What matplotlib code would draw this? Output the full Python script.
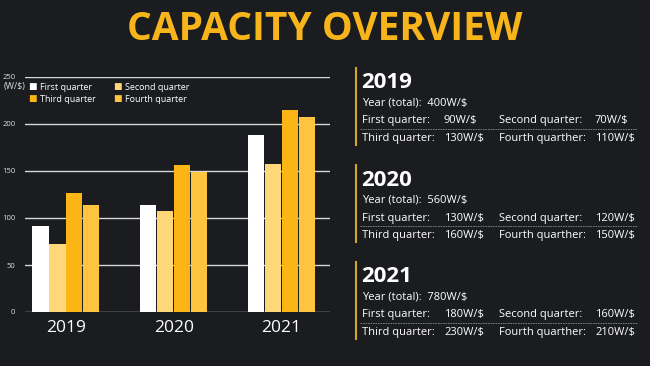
import numpy as np
import matplotlib.pyplot as plt

years = ["2019", "2020", "2021"]
quarters = ["First quarter", "Second quarter", "Third quarter", "Fourth quarter"]
# bar heights as drawn in the chart
q1 = [92, 114, 188]
q2 = [72, 107, 157]
q3 = [127, 156, 215]
q4 = [114, 149, 207]
yticks = [0, 50, 100, 150, 200, 250]

# numbers written in the side panels
totals = ["400W/$", "560W/$", "780W/$"]
txt_q1 = ["90W/$", "130W/$", "180W/$"]
txt_q2 = ["70W/$", "120W/$", "160W/$"]
txt_q3 = ["130W/$", "160W/$", "230W/$"]
txt_q4 = ["110W/$", "150W/$", "210W/$"]

bg = "#1a1c20"
colors = ["#ffffff", "#fdd77a", "#fbb515", "#fdc53e"]
gold = "#f7b51b"
font = "Open Sans"

W, H = 650, 366
fig = plt.figure(figsize=(6.5, 3.66), dpi=100, facecolor=bg)

fig.text(325 / W, 1 - 30 / H, "CAPACITY OVERVIEW", color=gold, fontsize=28,
         fontweight="bold", family=font, ha="center", va="center")

# bar chart
ax = fig.add_axes([25 / W, 1 - 312 / H, (330 - 25) / W, (312 - 77) / H])
ax.set_facecolor(bg)
x = np.arange(len(years))
width = 0.15
step = 0.157
for i, vals in enumerate([q1, q2, q3, q4]):
    ax.bar(x + (i - 1.5) * step, vals, width, color=colors[i], zorder=3)
ax.set_ylim(0, 250)
ax.set_xlim(-0.38, 2.45)
ax.set_yticks(yticks)
ax.set_yticklabels([str(t) for t in yticks], fontsize=5.5, color="#dddddd", family=font)
ax.grid(axis="y", color="#d8d8d8", linewidth=1.0, zorder=1)
ax.tick_params(axis="y", length=0, pad=7)
ax.tick_params(axis="x", length=0, pad=6)
ax.set_xticks(x)
ax.set_xticklabels(years, fontsize=12.5, color="white", family=font)
for s in ax.spines.values():
    s.set_visible(False)

fig.text(4 / W, 1 - 87 / H, "(W/$)", fontsize=6.5, color="#dddddd", family=font, va="center")
leg_pos = [(32, 87), (117, 87), (32, 99), (117, 99)]
for (px, py), c, lab in zip(leg_pos, colors, quarters):
    fig.text(px / W, 1 - py / H, "\u25a0", fontsize=6.5, color=c, va="center", ha="center", family="DejaVu Sans")
    fig.text((px + 8) / W, 1 - py / H, lab, fontsize=6.5, color="white", va="center", family=font)

# side panels
for k, yr in enumerate(years):
    top = 68 + k * 97
    fig.add_artist(plt.Line2D([356 / W, 356 / W], [1 - top / H, 1 - (top + 77) / H],
                              color="#d4a62a", linewidth=1.5))
    fig.text(361 / W, 1 - (top + 15) / H, yr, fontsize=16, fontweight="bold",
             color="white", family=font, va="center")
    fig.text(362 / W, 1 - (top + 35) / H, "Year (total):  " + totals[k], fontsize=8,
             color="white", family=font, va="center")
    rows = [(top + 53, "First quarter:", txt_q1[k], "Second quarter:", txt_q2[k]),
            (top + 70, "Third quarter:", txt_q3[k], "Fourth quarther:", txt_q4[k])]
    for ry, l1, v1, l2, v2 in rows:
        fig.text(362 / W, 1 - ry / H, l1, fontsize=8, color="white", family=font, va="center")
        fig.text(444 / W, 1 - ry / H, v1, fontsize=8, color="white", family=font, va="center")
        fig.text(499 / W, 1 - ry / H, l2, fontsize=8, color="white", family=font, va="center")
        fig.text(595 / W, 1 - ry / H, v2, fontsize=8, color="white", family=font, va="center")
    fig.add_artist(plt.Line2D([360 / W, 637 / W], [1 - (top + 61) / H] * 2,
                              color="#888888", linewidth=0.6, linestyle=(0, (2, 1))))

fig.savefig("out.png", dpi=100, facecolor=bg)
